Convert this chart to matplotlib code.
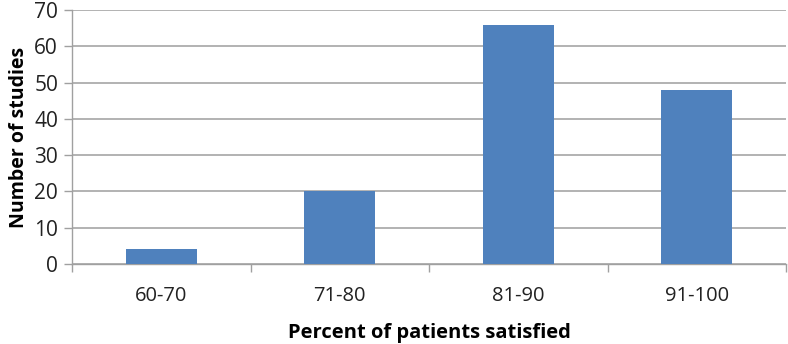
import matplotlib
matplotlib.use("Agg")
import matplotlib.pyplot as plt
import numpy as np

categories = ["60-70", "71-80", "81-90", "91-100"]
values = [4, 20, 66, 48]
yticks = [0, 10, 20, 30, 40, 50, 60, 70]

plt.rcParams['font.family'] = ['Open Sans', 'DejaVu Sans']

fig = plt.figure(figsize=(7.88, 3.44), dpi=100)
ax = fig.add_axes([72/788, 1-264/344, (786-72)/788, (264-10)/344])

x = np.arange(len(categories))
ax.bar(x, values, width=0.4, color="#4F81BD", zorder=3)
ax.set_xlim(-0.5, len(categories)-0.5)
ax.set_ylim(0, 70)
ax.set_yticks(yticks)
ax.set_yticklabels([str(t) for t in yticks], fontsize=15, color="#222222")
ax.set_xticks(x)
ax.set_xticklabels(categories, fontsize=14.5, color="#222222")
ax.tick_params(axis='x', length=0, pad=16)
ax.set_xticks(np.arange(len(categories)+1)-0.5, minor=True)
ax.tick_params(axis='x', which='minor', length=6, color="#A0A0A0", width=1)
ax.tick_params(axis='y', length=6, color="#A0A0A0", width=1, pad=4)

ax.grid(axis='y', color="#A6A6A6", linewidth=1.2, zorder=0)
for s in ["top", "right"]:
    ax.spines[s].set_visible(False)
for s in ["left", "bottom"]:
    ax.spines[s].set_color("#A0A0A0")
    ax.spines[s].set_linewidth(1)

ax.set_ylabel("Number of studies", fontsize=14, fontweight='bold', labelpad=4)
ax.set_xlabel("Percent of patients satisfied", fontsize=14.5, fontweight='bold', labelpad=12)

fig.savefig("out.png", dpi=100)
